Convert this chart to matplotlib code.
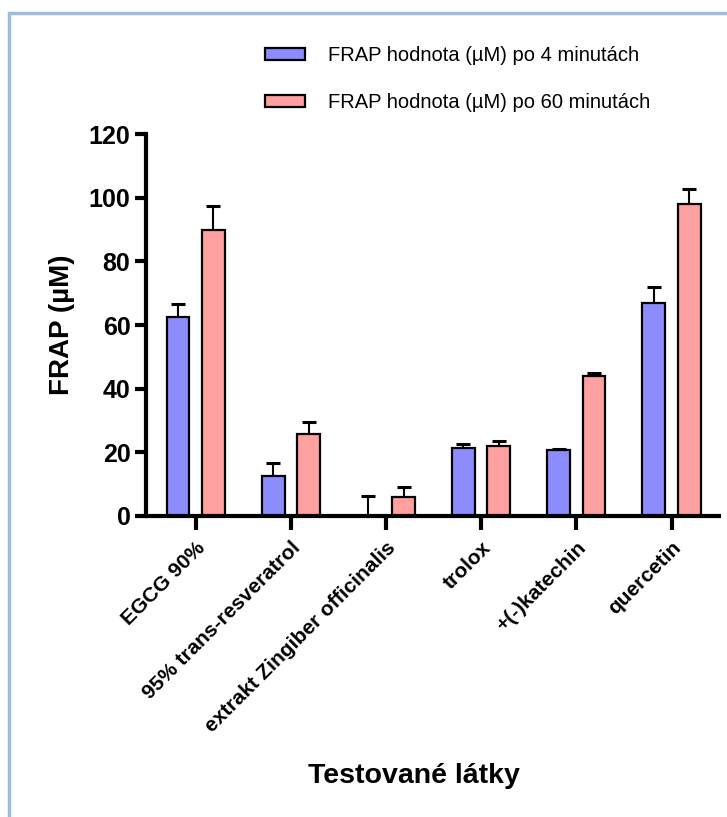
import matplotlib
matplotlib.use("Agg")
import matplotlib.pyplot as plt
from matplotlib.patches import Rectangle, Patch
import numpy as np

plt.rcParams['font.family'] = ['Liberation Sans', 'DejaVu Sans']

categories = ["EGCG 90%", "95% trans-resveratrol", "extrakt Zingiber officinalis",
              "trolox", "+(-)katechin", "quercetin"]
frap_4min = [62.5, 12.4, 0.0, 21.4, 20.7, 66.8]
err_4min = [4.0, 4.2, 6.3, 1.3, 0.4, 5.2]
frap_60min = [90.0, 25.8, 5.8, 22.0, 43.9, 98.2]
err_60min = [7.5, 3.8, 3.3, 1.5, 1.0, 4.7]
series_labels = ["FRAP hodnota (µM) po 4 minutách", "FRAP hodnota (µM) po 60 minutách"]
y_ticks = [0, 20, 40, 60, 80, 100, 120]

blue = "#8c8cff"
pink = "#ffa0a0"

fig = plt.figure(figsize=(7.27, 8.17), dpi=100)
fig.patch.set_facecolor("white")

# light blue frame around the figure (open to the right and bottom)
fig.patches.append(Rectangle((9 / 727, -0.1), 1.2, 1 - 13 / 817 + 0.1,
                             transform=fig.transFigure, fill=False,
                             edgecolor="#9fbbe0", linewidth=2.5, zorder=0))

ax = fig.add_axes([145.7 / 727, 0.3688, (721 - 145.7) / 727, 0.4668])

x = np.arange(len(categories))
w = 0.24
off = 0.186

for xs, vals, errs, col in [(x - off, frap_4min, err_4min, blue),
                            (x + off, frap_60min, err_60min, pink)]:
    ax.bar(xs, vals, width=w, color=col, edgecolor="black", linewidth=1.6, zorder=2)
    tops = np.array(vals) + np.array(errs)
    ax.vlines(xs, vals, tops, color="black", linewidth=1.5, zorder=3)
    ax.plot(xs, tops, linestyle="none", marker="_", markersize=9.5,
            markeredgewidth=2.2, color="black", zorder=3)

ax.set_xlim(-0.525, 5.52)
ax.set_ylim(0, 120)
ax.set_yticks(y_ticks)
ax.set_xticks(x)
ax.set_xticklabels(categories, rotation=45, ha="right", rotation_mode="anchor",
                   fontsize=15, fontweight="bold")
for lab in ax.get_yticklabels():
    lab.set_fontsize(18)
    lab.set_fontweight("bold")

for s in ["top", "right"]:
    ax.spines[s].set_visible(False)
for s in ["left", "bottom"]:
    ax.spines[s].set_linewidth(3)
ax.spines["bottom"].set_capstyle("butt")
ax.tick_params(axis="y", length=8, width=3, pad=3)
ax.tick_params(axis="x", length=10, width=3, pad=6)

ax.set_ylabel("FRAP (µM)", fontsize=20, fontweight="bold", labelpad=10)
fig.text(414 / 727, 1 - 776 / 817, "Testované látky",
         fontsize=20.5, fontweight="bold", ha="center", va="center")

handles = [Patch(facecolor=blue, edgecolor="black", linewidth=1.6),
           Patch(facecolor=pink, edgecolor="black", linewidth=1.6)]
fig.legend(handles, series_labels, loc="upper left",
           bbox_to_anchor=(265 / 727, 1 - 46 / 817), frameon=False,
           borderpad=0, borderaxespad=0,
           fontsize=14.5, handlelength=2.0, handleheight=0.6,
           handletextpad=1.15, labelspacing=1.4)

fig.savefig("out.png", dpi=100)
